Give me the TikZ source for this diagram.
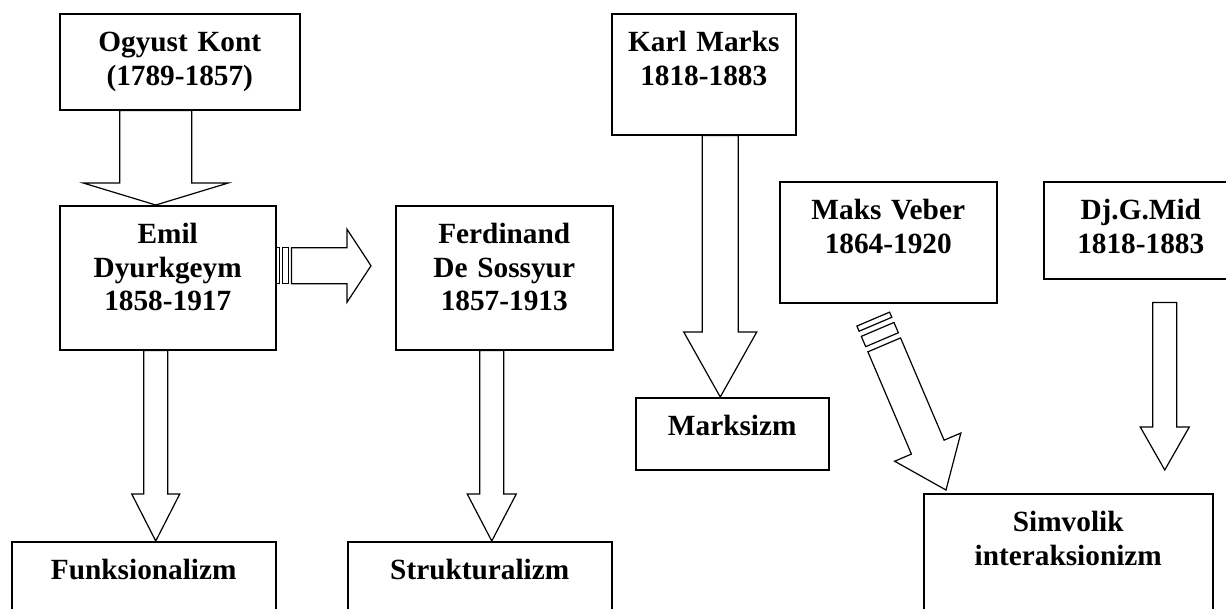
\documentclass[tikz,border=0pt]{standalone}
\usepackage{fontspec}
\setmainfont{Liberation Serif}
\usetikzlibrary{calc}

\tikzset{
  box/.style={draw, line width=1.5pt, anchor=north west, align=center, inner sep=0pt,
    text height=38pt, font=\fontsize{29.3}{33.5}\selectfont\bfseries},
  blk/.style={draw, line width=1.2pt, line join=miter}
}

% block arrow: tail, tip, shaft half width, head half width, head length
\newcommand{\blockarrow}[5]{%
  \coordinate (hb) at ($(#2)!#5pt!(#1)$);
  \draw[blk] ($(#1)!#3pt!90:(#2)$) -- ($(hb)!#3pt!90:(#2)$) -- ($(hb)!#4pt!90:(#2)$) -- (#2)
    -- ($(hb)!#4pt!-90:(#2)$) -- ($(hb)!#3pt!-90:(#2)$) -- ($(#1)!#3pt!-90:(#2)$) -- cycle;
}
% same with two stripes at the tail, last argument is the stripe unit
\newcommand{\stripedarrow}[6]{%
  \foreach \a/\b in {0/1,2/4}{
    \coordinate (sa) at ($(#1)!\a*#6pt!(#2)$);
    \coordinate (sb) at ($(#1)!\b*#6pt!(#2)$);
    \draw[blk] ($(sa)!#3pt!90:(#2)$) -- ($(sb)!#3pt!90:(#2)$) -- ($(sb)!#3pt!-90:(#2)$) -- ($(sa)!#3pt!-90:(#2)$) -- cycle;
  }
  \coordinate (st) at ($(#1)!5*#6pt!(#2)$);
  \blockarrow{st}{#2}{#3}{#4}{#5}
}

\begin{document}
\begin{tikzpicture}[x=1pt, y=-1pt]
\useasboundingbox (0,0) rectangle (1226,608);
\clip (0,0) rectangle (1226,608);

% thinkers
\node[box, text width=240pt, text depth=58pt] (kont) at (59,13) {Ogyust Kont\\(1789-1857)};
\node[box, text width=216pt, text depth=106pt] (emil) at (59,205) {Emil\\Dyurkgeym\\1858-1917};
\node[box, text width=217pt, text depth=106pt] (ferd) at (395,205) {Ferdinand\\De Sossyur\\1857-1913};
\node[box, text width=184pt, text depth=83pt] (marks) at (611,13) {Karl Marks\\1818-1883};
\node[box, text width=217pt, text depth=83pt] (veber) at (779,181) {Maks Veber\\1864-1920};
\node[box, text width=194pt, text depth=59pt] (mid) at (1043,181) {Dj.G.Mid\\1818-1883};

% schools
\node[box, text width=264pt, text depth=61pt] (funk) at (11,541) {Funksionalizm};
\node[box, text width=264pt, text depth=61pt] (struk) at (347,541) {Strukturalizm};
\node[box, text width=193pt, text depth=34pt] (marksizm) at (635,397) {Marksizm};
\node[box, text width=289pt, text depth=109pt] (simv) at (923,493) {Simvolik\\interaksionizm};

% Kont -> Dyurkgeym
\coordinate (a1) at ($(kont.south)+(-24,0)$);
\coordinate (b1) at ($(emil.north)+(-12,0)$);
\blockarrow{a1}{b1}{36}{72.5}{22}

% Dyurkgeym -> Funksionalizm
\coordinate (a2) at ($(emil.south)+(-12,0)$);
\coordinate (b2) at ($(funk.north)+(12,0)$);
\blockarrow{a2}{b2}{12}{24}{47}

% De Sossyur -> Strukturalizm
\coordinate (a3) at ($(ferd.south)+(-12.5,0)$);
\coordinate (b3) at ($(struk.north)+(12,0)$);
\blockarrow{a3}{b3}{12}{24.5}{47}

% Marks -> Marksizm
\coordinate (a4) at ($(marks.south)+(16.5,0)$);
\coordinate (b4) at ($(marksizm.north)+(-12,0)$);
\blockarrow{a4}{b4}{18}{36.5}{65}

% Mid -> Simvolik interaksionizm
\coordinate (a5) at ($(mid.south)+(24,23)$);
\coordinate (b5) at ($(simv.north)+(96.5,-23)$);
\blockarrow{a5}{b5}{12}{24.5}{43}

% Dyurkgeym -> De Sossyur
\coordinate (a6) at ($(emil.east)+(0,-12)$);
\coordinate (b6) at ($(ferd.west)+(-24,-12)$);
\stripedarrow{a6}{b6}{18}{36.5}{24}{3}

% Veber -> Simvolik interaksionizm
\coordinate (a7) at ($(veber.south)+(-15,15.6)$);
\coordinate (b7) at ($(simv.north west)+(23,-3)$);
\stripedarrow{a7}{b7}{17.75}{36}{46.6}{5.6}
\end{tikzpicture}
\end{document}
